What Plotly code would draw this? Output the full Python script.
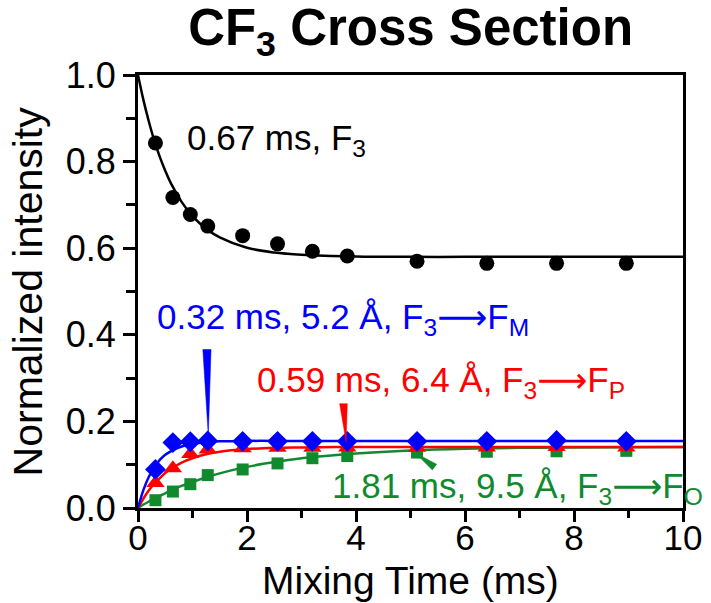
import plotly.graph_objects as go

# Measured mixing times (ms)
t_data = [0.32, 0.64, 0.96, 1.28, 1.92, 2.56, 3.2, 3.84, 5.12, 6.4, 7.68, 8.96]
f3_auto = [0.843, 0.717, 0.678, 0.651, 0.629, 0.610, 0.593, 0.582, 0.570, 0.565, 0.565, 0.565]
f3_fm = [0.089, 0.151, 0.153, 0.155, 0.154, 0.154, 0.154, 0.154, 0.154, 0.154, 0.156, 0.154]
f3_fp = [0.058, 0.092, 0.125, 0.135, 0.138, 0.139, 0.139, 0.140, 0.139, 0.140, 0.141, 0.140]
f3_fo = [0.018, 0.038, 0.055, 0.076, 0.089, 0.103, 0.115, 0.120, 0.128, 0.130, 0.131, 0.132]

# Fitted curves
t_fit = [0, 0.1, 0.2, 0.3, 0.4, 0.5, 0.6, 0.8, 1.0, 1.25, 1.5, 2.0, 2.5, 3.0, 4.0, 5.0, 6.0, 7.0, 8.0, 10.0]
fit_auto = [1.000, 0.942, 0.892, 0.848, 0.811, 0.779, 0.751, 0.707, 0.674, 0.645, 0.625, 0.601,
            0.590, 0.585, 0.581, 0.580, 0.580, 0.580, 0.580, 0.580]
fit_fm = [0, 0.042, 0.072, 0.094, 0.111, 0.123, 0.131, 0.142, 0.148, 0.152, 0.154, 0.155,
          0.155, 0.155, 0.155, 0.155, 0.155, 0.155, 0.155, 0.155]
fit_fp = [0, 0.022, 0.041, 0.056, 0.069, 0.081, 0.090, 0.105, 0.115, 0.124, 0.130, 0.136,
          0.139, 0.140, 0.141, 0.141, 0.141, 0.141, 0.141, 0.141]
fit_fo = [0, 0.008, 0.015, 0.022, 0.028, 0.034, 0.040, 0.051, 0.060, 0.071, 0.080, 0.095,
          0.106, 0.115, 0.126, 0.133, 0.137, 0.139, 0.140, 0.141]

x_ticks = [0, 2, 4, 6, 8, 10]
y_ticks = [0.0, 0.2, 0.4, 0.6, 0.8, 1.0]
y_ticklabels = ["0.0", "0.2", "0.4", "0.6", "0.8", "1.0"]

BLACK = "#000000"
BLUE = "#0000FF"
RED = "#FF0000"
GREEN = "#118A2E"
FONT = "Liberation Sans, Arial, sans-serif"
ARROW = "<span style='font-family:DejaVu Sans'>⟶</span>"

fig = go.Figure()

series = [
    (fit_auto, f3_auto, BLACK, "circle", 15),
    (fit_fo, f3_fo, GREEN, "square", 12),
    (fit_fp, f3_fp, RED, "triangle-up", 16),
    (fit_fm, f3_fm, BLUE, "diamond", 16),
]
for fit, pts, col, sym, sz in series:
    fig.add_trace(go.Scatter(x=t_fit, y=fit, mode="lines",
                             line=dict(color=col, width=2.5, shape="spline"),
                             showlegend=False, hoverinfo="skip"))
    fig.add_trace(go.Scatter(x=t_data, y=pts, mode="markers",
                             marker=dict(color=col, symbol=sym, size=sz, line=dict(width=0)),
                             showlegend=False))

# pointer wedges
wedges = [
    ("M 1.19,0.366 L 1.34,0.366 L 1.29,0.166 Z", BLUE),
    ("M 3.70,0.241 L 3.84,0.241 L 3.82,0.152 Z", RED),
    ("M 5.09,0.127 L 5.40,0.088 L 5.48,0.101 Z", GREEN),
]
for p, col in wedges:
    fig.add_shape(type="path", path=p, xref="x", yref="y",
                  fillcolor=col, line=dict(color=col, width=0.5))

ann = [
    (0.86, 0.850, "0.67 ms, F<sub>3</sub>", BLACK),
    (0.31, 0.437, "0.32 ms, 5.2 Å, F<sub>3</sub>" + ARROW + "F<sub>M</sub>", BLUE),
    (2.15, 0.290, "0.59 ms, 6.4 Å, F<sub>3</sub>" + ARROW + "F<sub>P</sub>", RED),
    (3.53, 0.047, "1.81 ms, 9.5 Å, F<sub>3</sub>" + ARROW + "F<sub>O</sub>", GREEN),
]
for x, y, txt, col in ann:
    fig.add_annotation(x=x, y=y, xref="x", yref="y", text=txt, showarrow=False,
                       xanchor="left", yanchor="middle",
                       font=dict(family=FONT, size=35, color=col))

# axis titles
fig.add_annotation(x=0.5, y=-0.168, xref="paper", yref="paper", text="Mixing Time (ms)",
                   showarrow=False, xanchor="center", yanchor="middle",
                   font=dict(family=FONT, size=39, color="black"))
fig.add_annotation(x=-0.202, y=0.5, xref="paper", yref="paper", text="Normalized intensity",
                   showarrow=False, xanchor="center", yanchor="middle", textangle=-90,
                   font=dict(family=FONT, size=41, color="black"))

fig.update_layout(
    width=711, height=603,
    margin=dict(l=138, r=28, t=75, b=95),
    paper_bgcolor="white", plot_bgcolor="white",
    title=dict(text="<b>CF<sub>3</sub> Cross Section</b>", x=0.5775, xanchor="center",
               y=0.955, yanchor="middle", yref="container",
               font=dict(family=FONT, size=51, color="black")),
    font=dict(family=FONT, color="black"),
)
fig.update_xaxes(range=[0, 10], tickvals=x_ticks, ticktext=[str(v) for v in x_ticks],
                 showline=True, linecolor="black", linewidth=3, mirror=True,
                 ticks="outside", ticklen=11, tickwidth=2.5, tickcolor="black",
                 minor=dict(dtick=1, ticks="outside", ticklen=7, tickwidth=2.5, tickcolor="black"),
                 showgrid=False, zeroline=False, automargin=False,
                 ticklabelstandoff=-14,
                 tickfont=dict(family=FONT, size=35))
fig.update_yaxes(range=[0, 1.0], tickvals=y_ticks, ticktext=y_ticklabels,
                 showline=True, linecolor="black", linewidth=3, mirror=True,
                 ticks="outside", ticklen=12, tickwidth=2.5, tickcolor="black",
                 minor=dict(dtick=0.1, ticks="outside", ticklen=9, tickwidth=2.5, tickcolor="black"),
                 showgrid=False, zeroline=False, automargin=False,
                 tickfont=dict(family=FONT, size=36))

fig.write_html("out.html")
